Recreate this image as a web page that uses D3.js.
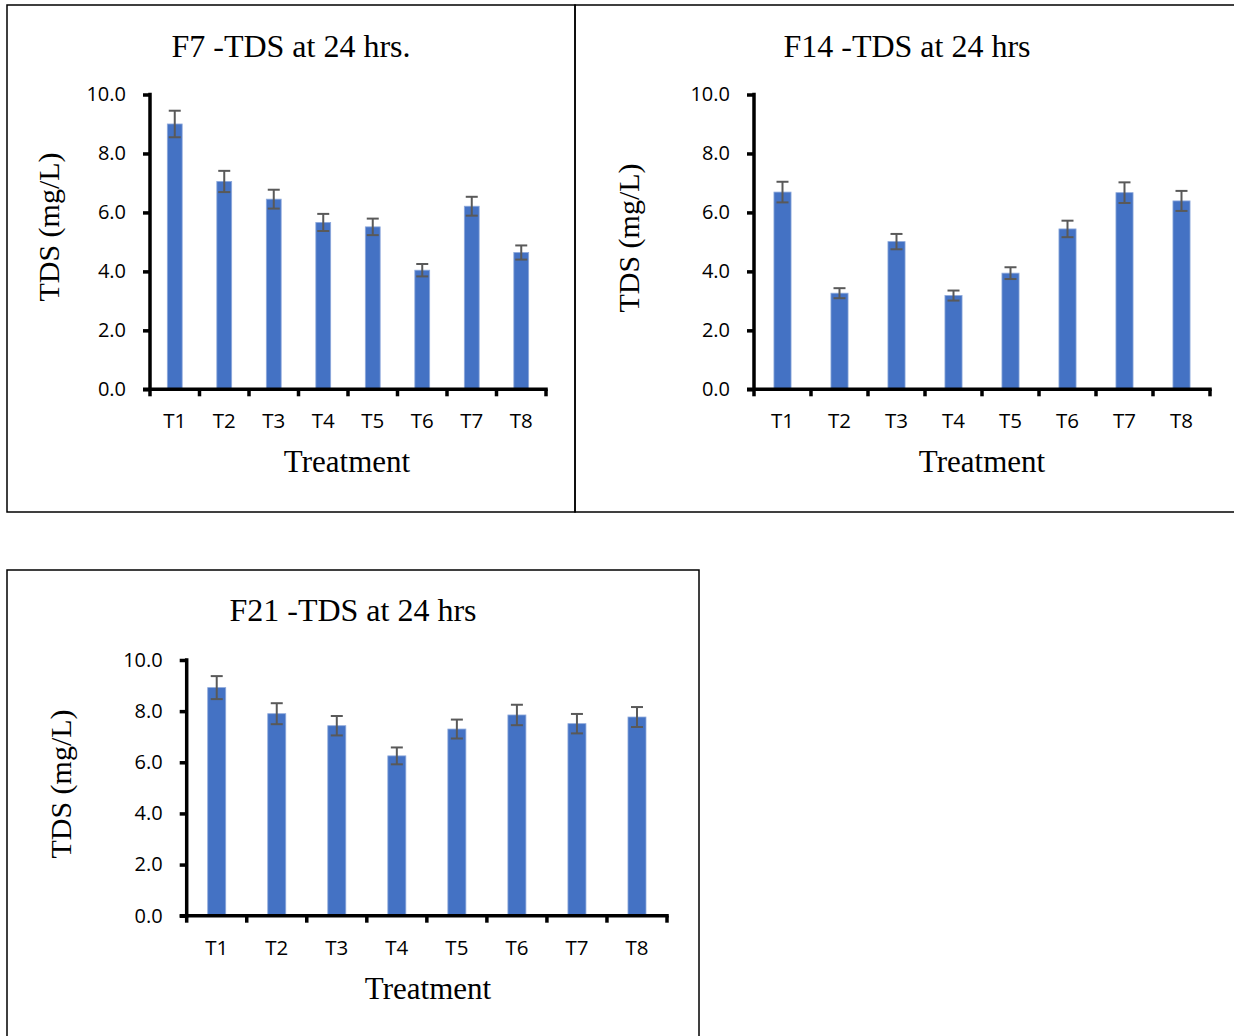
<!DOCTYPE html>
<html>
<head>
<meta charset="utf-8">
<script src="https://cdn.jsdelivr.net/npm/d3@7"></script>
<style>
  body { margin: 0; background: #fff; }
  svg { display: block; }
</style>
</head>
<body>
<div id="chart"></div>
<script>
// data
var treatments = ["T1", "T2", "T3", "T4", "T5", "T6", "T7", "T8"];
var yTicks = [0, 2, 4, 6, 8, 10];

var f7Means = [9.0, 7.05, 6.45, 5.66, 5.51, 4.04, 6.21, 4.64];
var f7Err   = [0.45, 0.36, 0.32, 0.29, 0.28, 0.21, 0.32, 0.24];

var f14Means = [6.69, 3.26, 5.01, 3.18, 3.94, 5.44, 6.67, 6.39];
var f14Err   = [0.35, 0.17, 0.26, 0.17, 0.20, 0.28, 0.35, 0.34];

var f21Means = [8.92, 7.90, 7.43, 6.25, 7.30, 7.85, 7.51, 7.77];
var f21Err   = [0.45, 0.41, 0.38, 0.33, 0.37, 0.40, 0.38, 0.39];

var titles = ["F7 -TDS at 24 hrs.", "F14 -TDS at 24 hrs", "F21 -TDS at 24 hrs"];

var attrs = {
    width: 1234,
    height: 1036,
    barColor: "#4472C4",
    barEdge: "#8EA9DB",
    errColor: "#595959",
    axisWidth: 3.5,
    tickLen: 7,
    capWidth: 12,
    serif: "'Liberation Serif', 'Times New Roman', serif",
    sans: "'Open Sans', 'Noto Sans', sans-serif"
};

// panel layout: frame box, plot box and text anchors
var panels = [
    { frame: [7, 5, 568, 507], x0: 150, x1: 546, yTop: 94.5, yBot: 389.3,
      titleX: 291, titleY: 56.5, yLabX: 58.5, yLabY: 227, xLabX: 347, xLabY: 471.5,
      means: f7Means, err: f7Err, title: titles[0] },
    { frame: [575, 5, 680, 507], x0: 754, x1: 1210, yTop: 94.5, yBot: 389.3,
      titleX: 907, titleY: 56.5, yLabX: 638.5, yLabY: 238, xLabX: 982, xLabY: 471.5,
      means: f14Means, err: f14Err, title: titles[1] },
    { frame: [7, 570, 692, 480], x0: 186.7, x1: 667, yTop: 660, yBot: 915.7,
      titleX: 353, titleY: 620.5, yLabX: 70.5, yLabY: 784, xLabX: 428, xLabY: 999,
      means: f21Means, err: f21Err, title: titles[2] }
];

var svg = d3.select("#chart").append("svg")
    .attr("width", attrs.width)
    .attr("height", attrs.height);

svg.append("rect")
    .attr("width", attrs.width)
    .attr("height", attrs.height)
    .attr("fill", "#fff");

panels.forEach(function(p){
    var g = svg.append("g");

    g.append("rect")
        .attr("x", p.frame[0])
        .attr("y", p.frame[1])
        .attr("width", p.frame[2])
        .attr("height", p.frame[3])
        .attr("fill", "none")
        .attr("stroke", "#000")
        .attr("stroke-width", 1.5);

    var x = d3.scaleBand()
        .domain(treatments)
        .range([p.x0, p.x1])
        .paddingInner(0.7)
        .paddingOuter(0.35);

    var y = d3.scaleLinear()
        .domain([0, 10])
        .range([p.yBot, p.yTop]);

    var rows = treatments.map(function(t, i){
        return { name: t, value: p.means[i], err: p.err[i] };
    });

    // bars
    g.selectAll("rect.bar").data(rows).enter()
        .append("rect")
        .attr("class", "bar")
        .attr("x", function(d){ return x(d.name); })
        .attr("y", function(d){ return y(d.value); })
        .attr("width", x.bandwidth())
        .attr("height", function(d){ return y(0) - y(d.value); })
        .attr("fill", attrs.barColor)
        .attr("stroke", attrs.barEdge)
        .attr("stroke-width", 0.8);

    // error bars
    var eb = g.selectAll("g.err").data(rows).enter()
        .append("g")
        .attr("class", "err")
        .attr("stroke", attrs.errColor)
        .attr("stroke-width", 2);
    eb.append("line")
        .attr("x1", function(d){ return x(d.name) + x.bandwidth() / 2; })
        .attr("x2", function(d){ return x(d.name) + x.bandwidth() / 2; })
        .attr("y1", function(d){ return y(d.value + d.err); })
        .attr("y2", function(d){ return y(d.value - d.err); });
    [1, -1].forEach(function(s){
        eb.append("line")
            .attr("x1", function(d){ return x(d.name) + x.bandwidth() / 2 - attrs.capWidth / 2; })
            .attr("x2", function(d){ return x(d.name) + x.bandwidth() / 2 + attrs.capWidth / 2; })
            .attr("y1", function(d){ return y(d.value + s * d.err); })
            .attr("y2", function(d){ return y(d.value + s * d.err); });
    });

    // y axis
    var yAxis = d3.axisLeft(y)
        .tickValues(yTicks)
        .tickSize(attrs.tickLen)
        .tickPadding(17)
        .tickFormat(d3.format(".1f"));
    var ya = g.append("g")
        .attr("transform", "translate(" + p.x0 + ",0)")
        .call(yAxis);
    ya.select(".domain").remove();
    ya.append("line")
        .attr("x1", 0).attr("x2", 0)
        .attr("y1", p.yTop - attrs.axisWidth / 2)
        .attr("y2", p.yBot + attrs.axisWidth / 2)
        .attr("stroke", "#000")
        .attr("stroke-width", attrs.axisWidth);
    ya.selectAll(".tick line").attr("stroke-width", attrs.axisWidth);
    ya.selectAll(".tick text")
        .attr("font-family", attrs.sans)
        .attr("font-size", 20)
        .attr("fill", "#000");

    // x axis: ticks sit on the category boundaries
    var step = x.step();
    var bounds = d3.range(treatments.length + 1).map(function(i){ return p.x0 + i * step; });
    var xa = g.append("g");
    xa.append("line")
        .attr("x1", p.x0 - attrs.tickLen)
        .attr("x2", p.x1 + attrs.axisWidth / 2)
        .attr("y1", p.yBot).attr("y2", p.yBot)
        .attr("stroke", "#000")
        .attr("stroke-width", attrs.axisWidth);
    xa.selectAll("line.tk").data(bounds).enter()
        .append("line")
        .attr("class", "tk")
        .attr("x1", function(d){ return d; })
        .attr("x2", function(d){ return d; })
        .attr("y1", p.yBot)
        .attr("y2", p.yBot + attrs.tickLen)
        .attr("stroke", "#000")
        .attr("stroke-width", attrs.axisWidth);
    xa.selectAll("text").data(treatments).enter()
        .append("text")
        .attr("x", function(d){ return x(d) + x.bandwidth() / 2; })
        .attr("y", p.yBot + 39)
        .attr("text-anchor", "middle")
        .attr("font-family", attrs.sans)
        .attr("font-size", 20.5)
        .text(function(d){ return d; });

    // titles
    g.append("text")
        .attr("x", p.titleX)
        .attr("y", p.titleY)
        .attr("text-anchor", "middle")
        .attr("font-family", attrs.serif)
        .attr("font-size", 32)
        .text(p.title);

    g.append("text")
        .attr("transform", "translate(" + p.yLabX + "," + p.yLabY + ") rotate(-90)")
        .attr("text-anchor", "middle")
        .attr("font-family", attrs.serif)
        .attr("font-size", 30)
        .text("TDS (mg/L)");

    g.append("text")
        .attr("x", p.xLabX)
        .attr("y", p.xLabY)
        .attr("text-anchor", "middle")
        .attr("font-family", attrs.serif)
        .attr("font-size", 31)
        .text("Treatment");
});
</script>
</body>
</html>
